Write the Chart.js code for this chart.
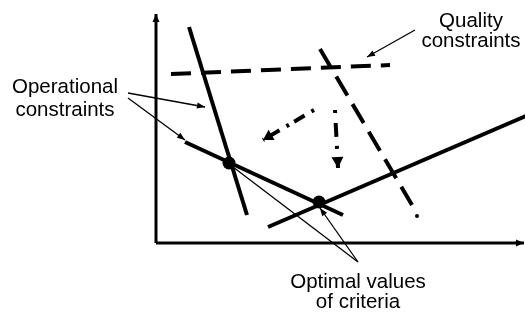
<!DOCTYPE html>
<html>
<head>
<meta charset="utf-8">
<script src="https://cdn.jsdelivr.net/npm/chart.js@4"></script>
<style>
  html, body { margin: 0; padding: 0; background: #fff; }
  canvas { display: block; }
</style>
</head>
<body>
<canvas id="diagram" width="525" height="318"></canvas>
<script>
// Diagram geometry, in picture units (x right, y down)
const axisY = [{ x: 156, y: 243 }, { x: 156, y: 14 }];
const axisX = [{ x: 156, y: 243 }, { x: 524, y: 243 }];

// operational constraints (solid)
const opSteep = [{ x: 189, y: 27 }, { x: 247, y: 215 }];
const opShallow = [{ x: 185, y: 142 }, { x: 343, y: 215 }];
const opRising = [{ x: 268, y: 227 }, { x: 526, y: 116 }];

// quality constraints (dashed)
const qualityFlat = [{ x: 171, y: 74 }, { x: 390, y: 65 }];
const qualitySteep = [{ x: 320, y: 49 }, { x: 412, y: 205 }];
const qualityEndDot = [{ x: 417, y: 216 }];

// improvement directions (dash-dot arrows)
const dirDiagonal = [{ x: 314, y: 110 }, { x: 263, y: 140 }];
const dirDown = [{ x: 335, y: 110 }, { x: 338, y: 168 }];

// optimal values of criteria
const optima = [{ x: 229, y: 163 }, { x: 319, y: 202 }];

// leader arrows from the labels
const leadQuality = [{ x: 415, y: 30 }, { x: 367, y: 57 }];
const leadOp1 = [{ x: 128, y: 93 }, { x: 205, y: 107 }];
const leadOp2 = [{ x: 128, y: 98 }, { x: 185, y: 140 }];
const leadOpt1 = [{ x: 358, y: 262 }, { x: 233, y: 167 }];
const leadOpt2 = [{ x: 358, y: 262 }, { x: 320, y: 208 }];

// label text
const labelQuality = ["Quality", "constraints"];
const labelOperational = ["Operational", "constraints"];
const labelOptimal = ["Optimal values", "of criteria"];

function seg(data, width, dash, arrow) {
  return {
    data: data,
    showLine: true,
    borderColor: "#000",
    backgroundColor: "#000",
    borderWidth: width,
    borderDash: dash || [],
    borderCapStyle: "butt",
    pointRadius: 0,
    pointHoverRadius: 0,
    clip: false,
    arrow: arrow || null,
  };
}

function dots(data, r) {
  return {
    data: data,
    showLine: false,
    pointRadius: r,
    pointHoverRadius: r,
    pointBackgroundColor: "#000",
    pointBorderWidth: 0,
    clip: false,
  };
}

// draws a filled arrowhead at the last point of a dataset
const arrowHeads = {
  id: "arrowHeads",
  afterDatasetsDraw(chart) {
    const ctx = chart.ctx;
    chart.data.datasets.forEach((ds, i) => {
      if (!ds.arrow) return;
      const pts = chart.getDatasetMeta(i).data;
      const a = pts[pts.length - 2], b = pts[pts.length - 1];
      const ang = Math.atan2(b.y - a.y, b.x - a.x);
      const L = ds.arrow.len, W = ds.arrow.width / 2;
      ctx.save();
      ctx.translate(b.x, b.y);
      ctx.rotate(ang);
      ctx.fillStyle = "#000";
      ctx.beginPath();
      ctx.moveTo(0, 0);
      ctx.lineTo(-L, -W);
      ctx.lineTo(-L, W);
      ctx.closePath();
      ctx.fill();
      ctx.restore();
    });
  },
};

const labelsPlugin = {
  id: "labelsPlugin",
  afterDraw(chart) {
    const ctx = chart.ctx;
    const xs = chart.scales.x, ys = chart.scales.y;
    const put = (lines, cx, y0, step) => {
      lines.forEach((t, k) => {
        ctx.fillText(t, xs.getPixelForValue(cx), ys.getPixelForValue(y0 + k * step));
      });
    };
    ctx.save();
    ctx.fillStyle = "#000";
    ctx.font = '20.5px "Liberation Sans", Arial, sans-serif';
    ctx.textAlign = "center";
    ctx.textBaseline = "alphabetic";
    put(labelQuality, 471, 27, 20);
    put(labelOperational, 65, 93, 23);
    put(labelOptimal, 358, 288, 20);
    ctx.restore();
  },
};

new Chart(document.getElementById("diagram"), {
  type: "scatter",
  data: {
    datasets: [
      seg(axisY, 3, null, { len: 8, width: 7 }),
      seg(axisX, 3, null, { len: 8, width: 7 }),
      seg(leadQuality, 1.3, null, { len: 8, width: 6 }),
      seg(leadOp1, 1.3, null, { len: 8, width: 6 }),
      seg(leadOp2, 1.3, null, { len: 8, width: 6 }),
      seg(leadOpt1, 1.3),
      seg(leadOpt2, 1.3, null, { len: 8, width: 6 }),
      seg(opSteep, 4),
      seg(opShallow, 4),
      seg(opRising, 4),
      seg(qualityFlat, 4, [20, 10]),
      seg(qualitySteep, 4, [22, 10]),
      dots(qualityEndDot, 2),
      seg(dirDiagonal, 4, [3, 8, 12, 6], { len: 10, width: 12 }),
      seg(dirDown, 4, [3, 10, 14, 9], { len: 11, width: 12 }),
      dots(optima, 6.5),
    ],
  },
  options: {
    responsive: false,
    animation: false,
    events: [],
    layout: { padding: 0, autoPadding: false },
    plugins: { legend: { display: false }, tooltip: { enabled: false } },
    scales: {
      x: { type: "linear", min: 0, max: 525, display: false },
      y: { type: "linear", min: 0, max: 318, reverse: true, display: false },
    },
  },
  plugins: [arrowHeads, labelsPlugin],
});
</script>
</body>
</html>
